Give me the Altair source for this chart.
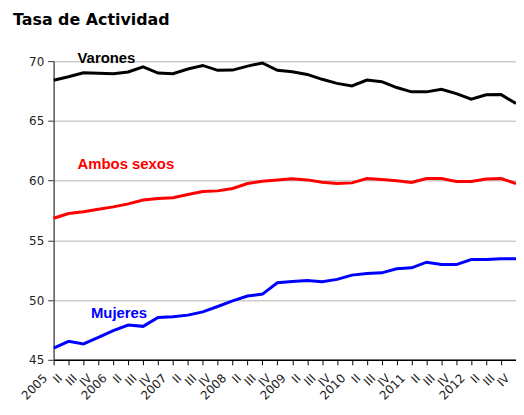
import altair as alt
import pandas as pd

quarter_labels = ['2005', 'II', 'III', 'IV', '2006', 'II', 'III', 'IV',
                  '2007', 'II', 'III', 'IV', '2008', 'II', 'III', 'IV',
                  '2009', 'II', 'III', 'IV', '2010', 'II', 'III', 'IV',
                  '2011', 'II', 'III', 'IV', '2012', 'II', 'III', 'IV']

varones = [68.40, 68.70, 69.03, 68.98, 68.95, 69.09, 69.53, 69.00,
           68.95, 69.34, 69.64, 69.23, 69.25, 69.58, 69.85, 69.23,
           69.11, 68.89, 68.48, 68.14, 67.92, 68.42, 68.28, 67.79,
           67.43, 67.43, 67.65, 67.28, 66.82, 67.18, 67.20, 66.45]
ambos = [56.85, 57.25, 57.40, 57.60, 57.80, 58.05, 58.37, 58.51,
         58.56, 58.84, 59.09, 59.14, 59.34, 59.76, 59.95, 60.06,
         60.15, 60.06, 59.86, 59.76, 59.81, 60.17, 60.09, 59.98,
         59.84, 60.17, 60.17, 59.92, 59.92, 60.14, 60.17, 59.76]
mujeres = [45.97, 46.55, 46.33, 46.88, 47.44, 47.91, 47.80, 48.55,
           48.60, 48.74, 49.01, 49.46, 49.93, 50.34, 50.50, 51.45,
           51.56, 51.64, 51.53, 51.73, 52.09, 52.23, 52.28, 52.62,
           52.70, 53.17, 52.97, 52.97, 53.39, 53.39, 53.45, 53.45]

series_names = ['Varones', 'Ambos sexos', 'Mujeres']
series_colors = ['#000000', '#ff0000', '#0000ff']

# annotation anchor points (data coordinates)
label_x = [1.6, 1.6, 2.5]
label_y = [69.85, 61.0, 48.5]

rows = []
for name, vals in zip(series_names, [varones, ambos, mujeres]):
    for i, v in enumerate(vals):
        rows.append({'i': i, 'v': v, 's': name})
df = pd.DataFrame(rows)
lab = pd.DataFrame({'i': label_x, 'v': label_y, 's': series_names})

label_expr = '[' + ','.join("'%s'" % t for t in quarter_labels) + '][datum.value]'

color = alt.Color('s:N', scale=alt.Scale(domain=series_names, range=series_colors), legend=None)

x = alt.X('i:Q', scale=alt.Scale(domain=[0, len(quarter_labels) - 1], nice=False, zero=False),
          axis=alt.Axis(values=list(range(len(quarter_labels))), labelExpr=label_expr,
                        labelAngle=-45, labelAlign='right', labelBaseline='middle',
                        title=None, grid=False, domainColor='#000000', domainWidth=1.5,
                        tickColor='#000000', tickSize=5, labelPadding=11, labelOffset=-9,
                        labelFontSize=12, labelColor='#222222', labelFont='DejaVu Sans',
                        labelOverlap=False, labelBound=False, labelFlush=False))
y = alt.Y('v:Q', scale=alt.Scale(domain=[45, 70], nice=False, zero=False),
          axis=alt.Axis(values=[45, 50, 55, 60, 65, 70], title=None, grid=True,
                        gridColor='#cccccc', gridWidth=1.5, domainColor='#555555',
                        domainWidth=1.5, tickColor='#333333', tickSize=6, labelPadding=4,
                        labelFontSize=12, labelColor='#222222', labelFont='DejaVu Sans'))

lines = alt.Chart(df).mark_line(strokeWidth=3).encode(x=x, y=y, color=color, detail='s:N')
texts = alt.Chart(lab).mark_text(align='left', baseline='alphabetic', fontSize=15,
                                 fontWeight='bold', font='Liberation Sans').encode(
    x=x, y=y, text='s:N', color=color)

chart = alt.layer(lines, texts).properties(
    width=466, height=301,
    autosize=alt.AutoSizeParams(type='none'),
    padding={'left': 46, 'top': 52, 'right': 0, 'bottom': 46},
    title=alt.TitleParams('Tasa de Actividad', anchor='start', frame='group', fontSize=16,
                          fontWeight='bold', font='DejaVu Sans', color='#000000', dx=-41,
                          offset=10, baseline='alphabetic'),
    background='#ffffff',
).configure_view(stroke=None).configure_axis(labelOverlap=False)

chart.save("out.html", embed_options={"renderer": "svg", "actions": False})
